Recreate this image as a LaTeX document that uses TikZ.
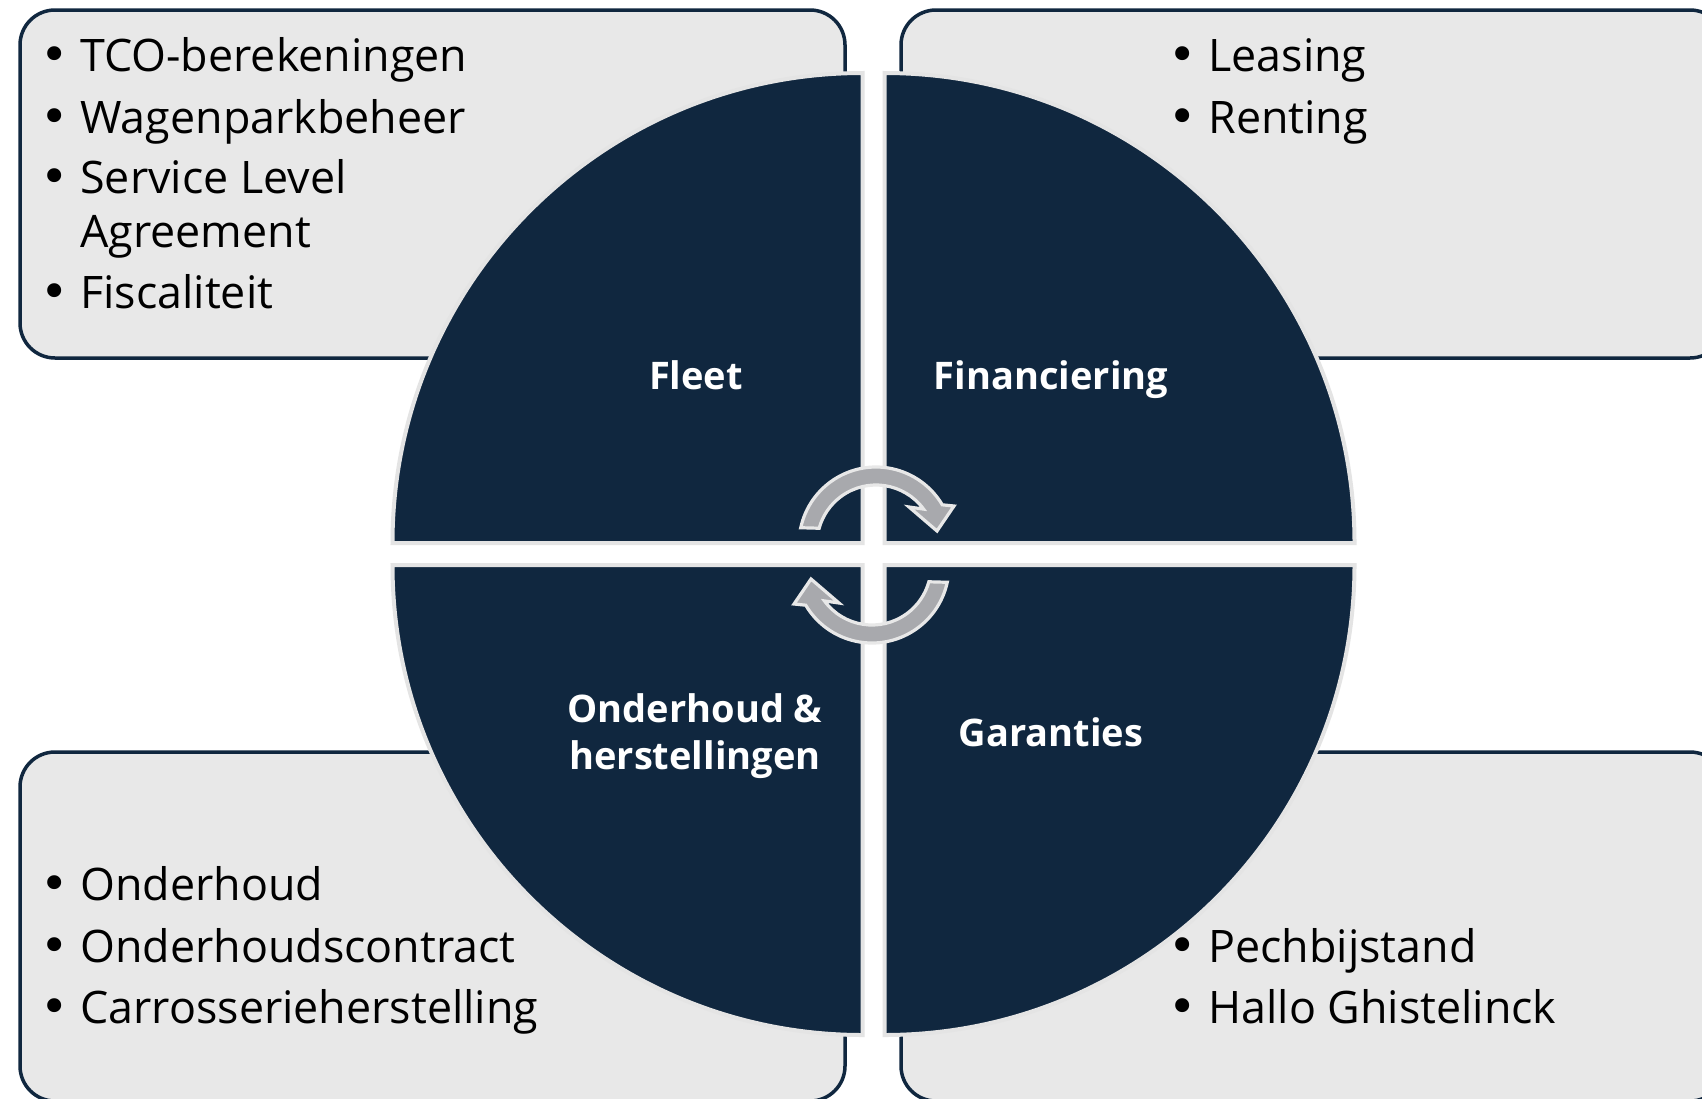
\documentclass[tikz,border=0pt]{standalone}
\usepackage{fontspec}
\setmainfont{Open Sans}
\newfontfamily\symfont{DejaVu Sans}
\usetikzlibrary{calc}
\definecolor{navy}{HTML}{10273F}
\definecolor{boxgray}{HTML}{E8E8E8}
\definecolor{quadline}{HTML}{E4E4E4}
\definecolor{arrowgray}{HTML}{A8A9AD}
\definecolor{arrowline}{HTML}{E8E8E8}
\newcommand{\bul}{\llap{\makebox[0pt][c]{\symfont\fontsize{24pt}{24pt}\selectfont •}\hspace{13pt}}}
\tikzset{
  infobox/.style={draw=navy, line width=1.75pt, fill=boxgray, rounded corners=17.5pt},
  quad/.style={fill=navy, draw=quadline, line width=2pt},
  cyc/.style={fill=arrowgray, draw=arrowline, line width=1.6pt, line join=miter},
  item/.style={anchor=base west, inner sep=0pt, text=black, font=\fontsize{22.4pt}{27pt}\selectfont},
  lbl/.style={anchor=base, inner sep=0pt, text=white, font=\bfseries\fontsize{19pt}{23pt}\selectfont}
}
\begin{document}
\begin{tikzpicture}[x=0.5pt,y=-0.5pt]
\useasboundingbox (0,0) rectangle (1702,1098);
\clip (0,0) rectangle (1702,1098);
\fill[white] (0,0) rectangle (1702,1098);

% boxes
\path[infobox] (20,10) rectangle (845,358);
\path[infobox] (901,10) rectangle (1725,358);
\path[infobox] (20,752) rectangle (845,1101);
\path[infobox] (901,752) rectangle (1725,1101);

% quadrants
\coordinate (cTL) at (862.5,543);
\coordinate (cTR) at (884.5,543);
\coordinate (cBL) at (862.5,565);
\coordinate (cBR) at (884.5,565);
\path[quad] (cTL) -- ++(-470,0) arc[start angle=180,end angle=270,radius=470] -- cycle;
\path[quad] (cTR) -- ++(0,-470) arc[start angle=270,end angle=360,radius=470] -- cycle;
\path[quad] (cBR) -- ++(470,0) arc[start angle=0,end angle=90,radius=470] -- cycle;
\path[quad] (cBL) -- ++(0,470) arc[start angle=90,end angle=180,radius=470] -- cycle;

% circular arrows
\coordinate (C1) at (876,544);
\coordinate (C2) at (872,566);
\path[cyc] ($(C1)+(192.2:77)$) arc[start angle=192.2,end angle=329.4,radius=77]
  -- (954,506) -- (937,531) -- (909,507)
  -- ($(C1)+(323.7:59)$) arc[start angle=323.7,end angle=195.5,radius=59] -- cycle;
\path[cyc] ($(C2)+(12.2:77)$) arc[start angle=12.2,end angle=149.4,radius=77]
  -- (794,604) -- (811,579) -- (839,603)
  -- ($(C2)+(143.7:59)$) arc[start angle=143.7,end angle=15.5,radius=59] -- cycle;

% quadrant labels
\node[lbl] (fleet) at (696,389) {Fleet};
\node[lbl] (fin) at (1051,389) {Financiering};
\node[lbl] (ond1) at (695,722) {Onderhoud \&};
\node[lbl] (ond2) at (695,769) {herstellingen};
\node[lbl] (gar) at (1051,746) {Garanties};

% top-left list
\node[item] (tl1) at (80,71) {\bul TCO-berekeningen};
\node[item] (tl2) at (80,133) {\bul Wagenparkbeheer};
\node[item] (tl3) at (80,193) {\bul Service Level};
\node[item] (tl3b) at (80,247) {Agreement};
\node[item] (tl4) at (80,308) {\bul Fiscaliteit};

% top-right list
\node[item] (tr1) at (1208,71) {\bul Leasing};
\node[item] (tr2) at (1208,133) {\bul Renting};

% bottom-left list
\node[item] (bl1) at (80,900) {\bul Onderhoud};
\node[item] (bl2) at (80,962) {\bul Onderhoudscontract};
\node[item] (bl3) at (80,1023) {\bul Carrosserieherstelling};

% bottom-right list
\node[item] (br1) at (1208,962) {\bul Pechbijstand};
\node[item] (br2) at (1208,1023) {\bul Hallo Ghistelinck};
\end{tikzpicture}
\end{document}
